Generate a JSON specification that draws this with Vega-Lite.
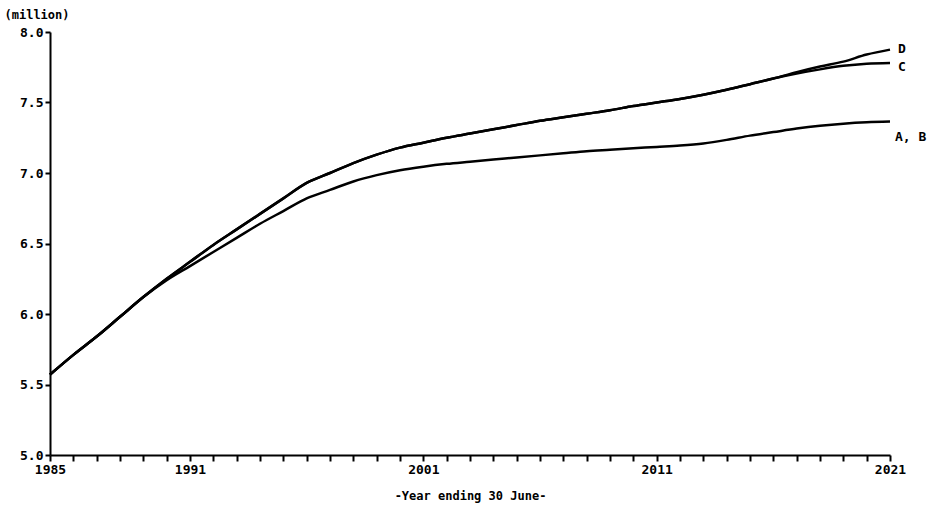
{
  "$schema": "https://vega.github.io/schema/vega-lite/v6.json",
  "width": 840,
  "height": 423,
  "autosize": {"type": "none"},
  "padding": {"left": 50, "top": 32, "right": 40, "bottom": 58},
  "background": "white",
  "config": {
    "view": {"stroke": null},
    "font": "DejaVu Sans Mono",
    "axis": {
      "domainColor": "black",
      "domainWidth": 2,
      "tickColor": "black",
      "tickWidth": 2,
      "labelColor": "black",
      "labelFont": "DejaVu Sans Mono",
      "labelFontWeight": "bold",
      "labelFontSize": 13,
      "titleFont": "DejaVu Sans Mono",
      "titleFontWeight": "bold",
      "titleFontSize": 12,
      "titleColor": "black",
      "grid": false
    }
  },
  "data": {
    "values": [
      {"year": 1985, "series": "A, B", "value": 5.57},
      {"year": 1986, "series": "A, B", "value": 5.71},
      {"year": 1987, "series": "A, B", "value": 5.84},
      {"year": 1988, "series": "A, B", "value": 5.98},
      {"year": 1989, "series": "A, B", "value": 6.12},
      {"year": 1990, "series": "A, B", "value": 6.24},
      {"year": 1991, "series": "A, B", "value": 6.34},
      {"year": 1992, "series": "A, B", "value": 6.44},
      {"year": 1993, "series": "A, B", "value": 6.54},
      {"year": 1994, "series": "A, B", "value": 6.64},
      {"year": 1995, "series": "A, B", "value": 6.73},
      {"year": 1996, "series": "A, B", "value": 6.82},
      {"year": 1997, "series": "A, B", "value": 6.88},
      {"year": 1998, "series": "A, B", "value": 6.94},
      {"year": 1999, "series": "A, B", "value": 6.985},
      {"year": 2000, "series": "A, B", "value": 7.02},
      {"year": 2001, "series": "A, B", "value": 7.045},
      {"year": 2002, "series": "A, B", "value": 7.065},
      {"year": 2003, "series": "A, B", "value": 7.08},
      {"year": 2004, "series": "A, B", "value": 7.095},
      {"year": 2005, "series": "A, B", "value": 7.11},
      {"year": 2006, "series": "A, B", "value": 7.125},
      {"year": 2007, "series": "A, B", "value": 7.14},
      {"year": 2008, "series": "A, B", "value": 7.155},
      {"year": 2009, "series": "A, B", "value": 7.165},
      {"year": 2010, "series": "A, B", "value": 7.175},
      {"year": 2011, "series": "A, B", "value": 7.185},
      {"year": 2012, "series": "A, B", "value": 7.195},
      {"year": 2013, "series": "A, B", "value": 7.21},
      {"year": 2014, "series": "A, B", "value": 7.235},
      {"year": 2015, "series": "A, B", "value": 7.265},
      {"year": 2016, "series": "A, B", "value": 7.29},
      {"year": 2017, "series": "A, B", "value": 7.315},
      {"year": 2018, "series": "A, B", "value": 7.335},
      {"year": 2019, "series": "A, B", "value": 7.35},
      {"year": 2020, "series": "A, B", "value": 7.36},
      {"year": 2021, "series": "A, B", "value": 7.365},
      {"year": 1985, "series": "C", "value": 5.57},
      {"year": 1986, "series": "C", "value": 5.71},
      {"year": 1987, "series": "C", "value": 5.84},
      {"year": 1988, "series": "C", "value": 5.98},
      {"year": 1989, "series": "C", "value": 6.12},
      {"year": 1990, "series": "C", "value": 6.25},
      {"year": 1991, "series": "C", "value": 6.37},
      {"year": 1992, "series": "C", "value": 6.49},
      {"year": 1993, "series": "C", "value": 6.60},
      {"year": 1994, "series": "C", "value": 6.71},
      {"year": 1995, "series": "C", "value": 6.82},
      {"year": 1996, "series": "C", "value": 6.93},
      {"year": 1997, "series": "C", "value": 7.00},
      {"year": 1998, "series": "C", "value": 7.07},
      {"year": 1999, "series": "C", "value": 7.13},
      {"year": 2000, "series": "C", "value": 7.18},
      {"year": 2001, "series": "C", "value": 7.215},
      {"year": 2002, "series": "C", "value": 7.25},
      {"year": 2003, "series": "C", "value": 7.28},
      {"year": 2004, "series": "C", "value": 7.31},
      {"year": 2005, "series": "C", "value": 7.34},
      {"year": 2006, "series": "C", "value": 7.37},
      {"year": 2007, "series": "C", "value": 7.395},
      {"year": 2008, "series": "C", "value": 7.42},
      {"year": 2009, "series": "C", "value": 7.445},
      {"year": 2010, "series": "C", "value": 7.475},
      {"year": 2011, "series": "C", "value": 7.50},
      {"year": 2012, "series": "C", "value": 7.525},
      {"year": 2013, "series": "C", "value": 7.555},
      {"year": 2014, "series": "C", "value": 7.59},
      {"year": 2015, "series": "C", "value": 7.63},
      {"year": 2016, "series": "C", "value": 7.67},
      {"year": 2017, "series": "C", "value": 7.705},
      {"year": 2018, "series": "C", "value": 7.735},
      {"year": 2019, "series": "C", "value": 7.76},
      {"year": 2020, "series": "C", "value": 7.775},
      {"year": 2021, "series": "C", "value": 7.78},
      {"year": 1985, "series": "D", "value": 5.57},
      {"year": 1986, "series": "D", "value": 5.71},
      {"year": 1987, "series": "D", "value": 5.84},
      {"year": 1988, "series": "D", "value": 5.98},
      {"year": 1989, "series": "D", "value": 6.12},
      {"year": 1990, "series": "D", "value": 6.25},
      {"year": 1991, "series": "D", "value": 6.37},
      {"year": 1992, "series": "D", "value": 6.49},
      {"year": 1993, "series": "D", "value": 6.60},
      {"year": 1994, "series": "D", "value": 6.71},
      {"year": 1995, "series": "D", "value": 6.82},
      {"year": 1996, "series": "D", "value": 6.93},
      {"year": 1997, "series": "D", "value": 7.00},
      {"year": 1998, "series": "D", "value": 7.07},
      {"year": 1999, "series": "D", "value": 7.13},
      {"year": 2000, "series": "D", "value": 7.18},
      {"year": 2001, "series": "D", "value": 7.215},
      {"year": 2002, "series": "D", "value": 7.25},
      {"year": 2003, "series": "D", "value": 7.28},
      {"year": 2004, "series": "D", "value": 7.31},
      {"year": 2005, "series": "D", "value": 7.34},
      {"year": 2006, "series": "D", "value": 7.37},
      {"year": 2007, "series": "D", "value": 7.395},
      {"year": 2008, "series": "D", "value": 7.42},
      {"year": 2009, "series": "D", "value": 7.445},
      {"year": 2010, "series": "D", "value": 7.475},
      {"year": 2011, "series": "D", "value": 7.50},
      {"year": 2012, "series": "D", "value": 7.525},
      {"year": 2013, "series": "D", "value": 7.555},
      {"year": 2014, "series": "D", "value": 7.59},
      {"year": 2015, "series": "D", "value": 7.63},
      {"year": 2016, "series": "D", "value": 7.67},
      {"year": 2017, "series": "D", "value": 7.715},
      {"year": 2018, "series": "D", "value": 7.755},
      {"year": 2019, "series": "D", "value": 7.79},
      {"year": 2020, "series": "D", "value": 7.84},
      {"year": 2021, "series": "D", "value": 7.875}
    ]
  },
  "encoding": {
    "x": {
      "field": "year",
      "type": "quantitative",
      "scale": {"domain": [1985, 2021], "nice": false, "zero": false},
      "axis": {
        "values": [1985,1986,1987,1988,1989,1990,1991,1992,1993,1994,1995,1996,1997,1998,1999,2000,2001,2002,2003,2004,2005,2006,2007,2008,2009,2010,2011,2012,2013,2014,2015,2016,2017,2018,2019,2020,2021],
        "labelExpr": "indexof([1985,1991,2001,2011,2021], datum.value) >= 0 ? datum.value : ''",
        "format": "d",
        "tickSize": 6,
        "labelPadding": 2,
        "labelFlush": false,
        "title": "-Year ending 30 June-",
        "titlePadding": 14
      }
    },
    "y": {
      "field": "value",
      "type": "quantitative",
      "scale": {"domain": [5, 8], "nice": false, "zero": false},
      "axis": {
        "values": [5.0, 5.5, 6.0, 6.5, 7.0, 7.5, 8.0],
        "format": ".1f",
        "tickSize": 5,
        "labelPadding": 2,
        "title": "(million)",
        "titleAngle": 0,
        "titleAlign": "left",
        "titleBaseline": "bottom",
        "titleX": -46,
        "titleY": -11,
        "titleFontSize": 12
      }
    }
  },
  "layer": [
    {
      "mark": {"type": "line", "color": "black", "strokeWidth": 2.5, "interpolate": "monotone"},
      "encoding": {"detail": {"field": "series"}}
    },
    {
      "transform": [{"filter": "datum.year == 2021 && datum.series == 'D'"}],
      "mark": {"type": "text", "align": "left", "baseline": "middle", "dx": 8, "dy": -1, "fontWeight": "bold", "fontSize": 13, "font": "DejaVu Sans Mono", "color": "black"},
      "encoding": {"text": {"field": "series"}}
    },
    {
      "transform": [{"filter": "datum.year == 2021 && datum.series == 'C'"}],
      "mark": {"type": "text", "align": "left", "baseline": "middle", "dx": 8, "dy": 4, "fontWeight": "bold", "fontSize": 13, "font": "DejaVu Sans Mono", "color": "black"},
      "encoding": {"text": {"field": "series"}}
    },
    {
      "transform": [{"filter": "datum.year == 2021 && datum.series == 'A, B'"}],
      "mark": {"type": "text", "align": "left", "baseline": "middle", "dx": 5, "dy": 15, "fontWeight": "bold", "fontSize": 13, "font": "DejaVu Sans Mono", "color": "black"},
      "encoding": {"text": {"field": "series"}}
    }
  ]
}
